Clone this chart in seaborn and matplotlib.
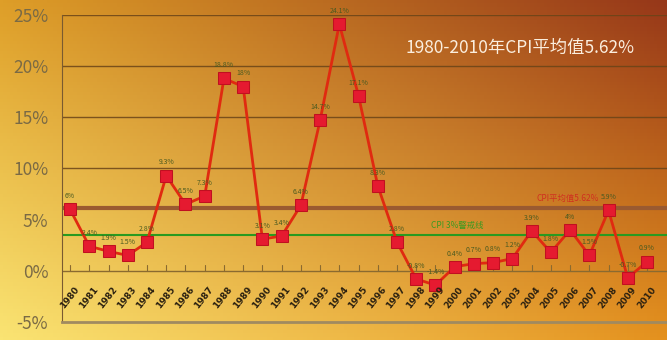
import numpy as np
import pandas as pd
import matplotlib
matplotlib.use('Agg')
import matplotlib.pyplot as plt
import seaborn as sns

years = list(range(1980, 2011))
cpi = [6.0, 2.4, 1.9, 1.5, 2.8, 9.3, 6.5, 7.3, 18.8, 18.0,
       3.1, 3.4, 6.4, 14.7, 24.1, 17.1, 8.3, 2.8, -0.8, -1.4,
       0.4, 0.7, 0.8, 1.2, 3.9, 1.8, 4.0, 1.5, 5.9, -0.7, 0.9]
point_labels = ['6%', '2.4%', '1.9%', '1.5%', '2.8%', '9.3%', '6.5%', '7.3%', '18.8%', '18%',
                '3.1%', '3.4%', '6.4%', '14.7%', '24.1%', '17.1%', '8.3%', '2.8%', '-0.8%', '-1.4%',
                '0.4%', '0.7%', '0.8%', '1.2%', '3.9%', '1.8%', '4%', '1.5%', '5.9%', '-0.7%', '0.9%']
y_ticks = [-5, 0, 5, 10, 15, 20, 25]
avg_line = 6.1
warn_line = 3.5
title = '1980-2010年CPI平均值5.62%'
avg_label = 'CPI平均值5.62%'
warn_label = 'CPI 3%警戒线'

df = pd.DataFrame({'year': years, 'cpi': cpi})

sns.set_style('white')
plt.rcParams['font.family'] = ['Noto Sans CJK SC', 'DejaVu Sans']

fig = plt.figure(figsize=(6.67, 3.4), dpi=100)

# background gradient: yellow bottom-left -> dark orange-red top-right
bg = fig.add_axes([0, 0, 1, 1])
h, w = 100, 200
yy, xx = np.mgrid[0:1:h * 1j, 0:1:w * 1j]
tl = np.array([222, 158, 40]) / 255
tr = np.array([150, 55, 25]) / 255
bl = np.array([250, 228, 115]) / 255
br = np.array([228, 145, 30]) / 255
img = ((1 - xx)[..., None] * (1 - yy)[..., None] * tl + xx[..., None] * (1 - yy)[..., None] * tr
       + (1 - xx)[..., None] * yy[..., None] * bl + xx[..., None] * yy[..., None] * br)
bg.imshow(img, aspect='auto', extent=[0, 1, 0, 1], origin='upper')
bg.axis('off')

ax = fig.add_axes([0.093, 0.053, 0.907, 0.903])
ax.patch.set_alpha(0)
for s in ['top', 'right']:
    ax.spines[s].set_visible(False)
ax.spines['left'].set_color('#7a5a30')
ax.spines['bottom'].set_color('#a08a60')
ax.spines['bottom'].set_linewidth(2)

for t in [10, 15, 20, 25]:
    ax.axhline(t, color='#6a4418', lw=1, alpha=0.85, zorder=1)
ax.axhline(0, color='#8a6a30', lw=1, zorder=1)
ax.axhline(avg_line, color='#9a5a30', lw=3, zorder=1)
ax.axhline(warn_line, color='#2a9a20', lw=1.5, zorder=1)

sns.lineplot(data=df, x='year', y='cpi', ax=ax, color='#e02a10', lw=2,
             marker='s', markersize=9, markerfacecolor='#e51a30',
             markeredgecolor='#c01020', zorder=3)

for x, y, lab in zip(years, cpi, point_labels):
    ax.text(x, y + 0.9, lab, ha='center', va='bottom', fontsize=5,
            color='#4a5a20', zorder=4)

# small ticks on the zero line
for x in years:
    ax.plot([x, x], [0, 0.6], color='#8a6a30', lw=0.8, zorder=1)

ax.text(2007.5, avg_line + 0.5, avg_label, ha='right', va='bottom', fontsize=6, color='#d03020')
ax.text(2001.5, warn_line + 0.5, warn_label, ha='right', va='bottom', fontsize=6, color='#3a9a20')

ax.set_xlim(1979.58, 2011.04)
ax.set_ylim(-5, 25)
ax.set_yticks(y_ticks)
ax.set_yticklabels([f'{t}%' for t in y_ticks], fontsize=12.5, color='#7a6a45')
ax.tick_params(axis='y', length=0, pad=10)
ax.set_xticks([])
ax.set_xlabel('')
ax.set_ylabel('')

for x in years:
    ax.text(x + 0.55, -1.4, str(x), rotation=52, ha='right', va='top', fontsize=6.5,
            fontweight='bold', color='#2a2010', family=['DejaVu Sans'])

fig.text(0.78, 0.858, title, ha='center', va='center', fontsize=12.5, color='#fbeede')

fig.savefig('out.png', dpi=100)
